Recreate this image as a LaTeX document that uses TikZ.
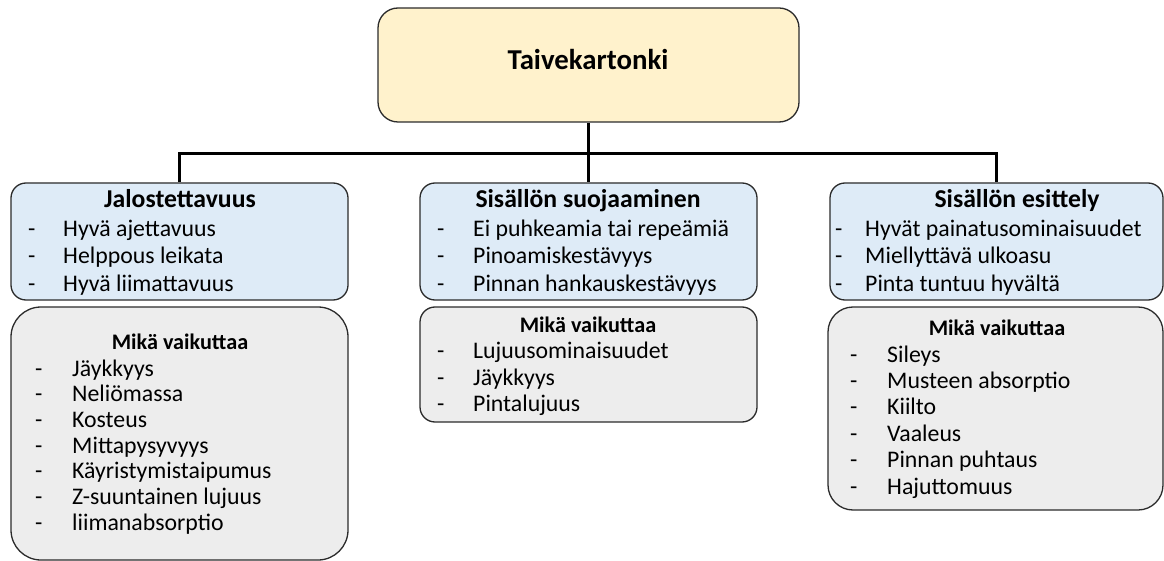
\documentclass[tikz,border=0pt]{standalone}
\usepackage{fontspec}
\setmainfont{Carlito}
\definecolor{yel}{HTML}{FFF2CC}
\definecolor{blu}{HTML}{DEEBF7}
\definecolor{gry}{HTML}{EDEDED}
\definecolor{edgec}{HTML}{2B2B2B}
\newcommand\bodyfont{\fontsize{23.8}{28}\selectfont}
\newcommand\headfont{\fontsize{25.7}{30}\selectfont\bfseries}
\newcommand\subheadfont{\fontsize{22.2}{26}\selectfont\bfseries}
\tikzset{
  box/.style={draw=edgec, line width=1.3pt, inner sep=0pt},
  conn/.style={draw=black, line width=3pt},
  itemtxt/.style={anchor=base west, inner sep=0pt, font=\bodyfont},
  dashtxt/.style={anchor=base west, inner sep=0pt, font=\bodyfont},
  headtxt/.style={anchor=base, inner sep=0pt, font=\headfont},
  subhead/.style={anchor=base, inner sep=0pt, font=\subheadfont}
}
\begin{document}
\begin{tikzpicture}[x=1pt,y=-1pt]
\useasboundingbox (0,0) rectangle (1164,561);
% boxes
\node[box, fill=yel, rounded corners=20pt, minimum width=421pt, minimum height=114pt] (top) at (588.5,65) {};
\node[box, fill=blu, rounded corners=15pt, minimum width=337pt, minimum height=117pt] (b1) at (179.5,241.5) {};
\node[box, fill=blu, rounded corners=15pt, minimum width=337pt, minimum height=117pt] (b2) at (588.5,241.5) {};
\node[box, fill=blu, rounded corners=15pt, minimum width=333pt, minimum height=117pt] (b3) at (996.5,241.5) {};
\node[box, fill=gry, rounded corners=30pt, minimum width=337pt, minimum height=253pt] (g1) at (179.5,433.5) {};
\node[box, fill=gry, rounded corners=15pt, minimum width=337pt, minimum height=115pt] (g2) at (588.5,364.5) {};
\node[box, fill=gry, rounded corners=25pt, minimum width=335pt, minimum height=203pt] (g3) at (995.5,408.5) {};
% connectors
\coordinate (hub) at (588.5,154);
\draw[conn] (top.south) -- (b2.north);
\draw[conn] (b1.north) |- (hub) -| (b3.north);
% title
\node[anchor=mid, inner sep=0pt, font=\fontsize{28.8}{33}\selectfont\bfseries] (title) at (588,67) {Taivekartonki};
% column 1
\node[headtxt] (h1) at (180,208) {Jalostettavuus};
\foreach \t [count=\i] in {Hyvä ajettavuus, Helppous leikata, Hyvä liimattavuus} {
  \node[dashtxt] (d1-\i) at (28,{237+(\i-1)*27}) {-};
  \node[itemtxt] (i1-\i) at (63,{237+(\i-1)*27}) {\t};
}
\node[subhead] (s1) at (180,349) {Mikä vaikuttaa};
\foreach \t [count=\i] in {Jäykkyys, Neliömassa, Kosteus, Mittapysyvyys, Käyristymistaipumus, Z-suuntainen lujuus, liimanabsorptio} {
  \node[dashtxt] (e1-\i) at (35,{376+(\i-1)*25.7}) {-};
  \node[itemtxt] (j1-\i) at (72,{376+(\i-1)*25.7}) {\t};
}
% column 2
\node[headtxt] (h2) at (588,208) {Sisällön suojaaminen};
\foreach \t [count=\i] in {Ei puhkeamia tai repeämiä, Pinoamiskestävyys, Pinnan hankauskestävyys} {
  \node[dashtxt] (d2-\i) at (437,{237+(\i-1)*27}) {-};
  \node[itemtxt] (i2-\i) at (473,{237+(\i-1)*27}) {\t};
}
\node[subhead] (s2) at (588,332) {Mikä vaikuttaa};
\foreach \t [count=\i] in {Lujuusominaisuudet, Jäykkyys, Pintalujuus} {
  \node[dashtxt] (e2-\i) at (437,{358.5+(\i-1)*26.5}) {-};
  \node[itemtxt] (j2-\i) at (473,{358.5+(\i-1)*26.5}) {\t};
}
% column 3
\node[headtxt] (h3) at (1017,208) {Sisällön esittely};
\foreach \t [count=\i] in {Hyvät painatusominaisuudet, Miellyttävä ulkoasu, Pinta tuntuu hyvältä} {
  \node[dashtxt] (d3-\i) at (835,{237+(\i-1)*27}) {-};
  \node[itemtxt] (i3-\i) at (865,{237+(\i-1)*27}) {\t};
}
\node[subhead] (s3) at (997,335) {Mikä vaikuttaa};
\foreach \t [count=\i] in {Sileys, Musteen absorptio, Kiilto, Vaaleus, Pinnan puhtaus, Hajuttomuus} {
  \node[dashtxt] (e3-\i) at (850,{362+(\i-1)*26.4}) {-};
  \node[itemtxt] (j3-\i) at (887,{362+(\i-1)*26.4}) {\t};
}
\end{tikzpicture}
\end{document}
